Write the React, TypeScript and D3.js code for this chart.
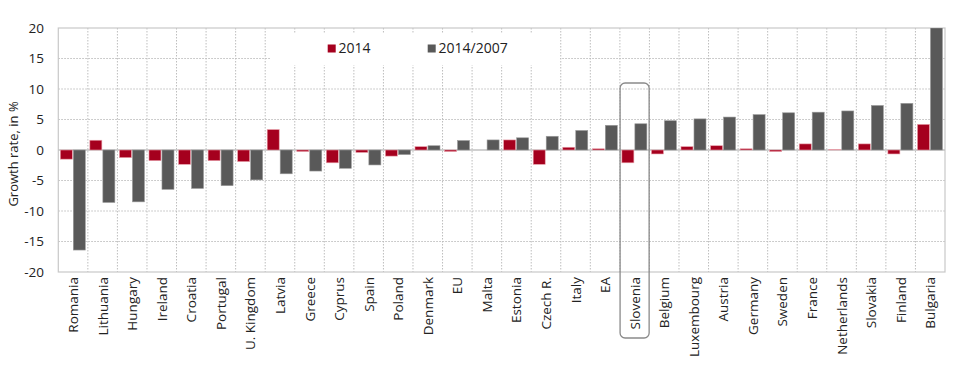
import React from "react";
import * as d3 from "d3";

const categories = ["Romania","Lithuania","Hungary","Ireland","Croatia","Portugal","U. Kingdom","Latvia","Greece","Cyprus","Spain","Poland","Denmark","EU","Malta","Estonia","Czech R.","Italy","EA","Slovenia","Belgium","Luxembourg","Austria","Germany","Sweden","France","Netherlands","Slovakia","Finland","Bulgaria"];
const values2014 = [-1.5,1.6,-1.25,-1.75,-2.35,-1.75,-1.9,3.35,-0.25,-2.1,-0.4,-1.0,0.55,-0.25,0,1.65,-2.35,0.45,0.2,-2.1,-0.65,0.55,0.7,0.2,-0.25,1.0,0.05,1.0,-0.65,4.2];
const values20142007 = [-16.4,-8.6,-8.5,-6.45,-6.3,-5.85,-4.9,-3.9,-3.45,-3.0,-2.45,-0.75,0.7,1.55,1.65,2.0,2.25,3.2,4.05,4.3,4.8,5.1,5.4,5.8,6.1,6.2,6.4,7.3,7.65,20];
const yTicks = [20,15,10,5,0,-5,-10,-15,-20];
const seriesNames = ["2014","2014/2007"];
const highlight = "Slovenia";

const W = 960, H = 365;
const L = 58.3, R = 945, T = 28, B = 272;
const RED = "#a5001e", GRAY = "#595959";
const FONT = "'Open Sans', 'Noto Sans', sans-serif";

export default function App() {
  const x = d3.scaleBand<string>().domain(categories).range([L, R]).paddingInner(0).paddingOuter(0);
  const y = d3.scaleLinear().domain([-20, 20]).range([B, T]);
  const bw = x.bandwidth();
  const barW = 12;
  const off1 = 2, off2 = 2 + barW + 1;
  const hx = x(highlight)!;
  return (
    <svg width={W} height={H} style={{ position: "absolute", left: 0, top: 0, background: "#fff" }} fontFamily={FONT}>
      <defs>
        <clipPath id="plot"><rect x={L} y={T} width={R - L} height={B - T} /></clipPath>
      </defs>
      {/* horizontal gridlines */}
      {yTicks.filter(t => t !== 20 && t !== -20 && t !== 0).map(t => (
        <line key={"h" + t} x1={L} x2={R} y1={y(t)} y2={y(t)} stroke="#bdbdbd" strokeWidth={1} strokeDasharray="1.5,1.5" />
      ))}
      {/* vertical gridlines */}
      {categories.slice(1).map(c => (
        <line key={"v" + c} x1={x(c)!} x2={x(c)!} y1={T} y2={B} stroke="#bdbdbd" strokeWidth={1} strokeDasharray="1.5,1.5" />
      ))}
      {/* legend background */}
      <rect x={270} y={33} width={290} height={32} fill="#fff" />
      {/* border */}
      <rect x={L} y={T} width={R - L} height={B - T} fill="none" stroke="#c8c8c8" strokeWidth={1.2} />
      {/* zero line */}
      <line x1={L} x2={R} y1={y(0)} y2={y(0)} stroke="#c0c0c0" strokeWidth={1.5} />
      <g clipPath="url(#plot)">
        {categories.map((c, i) => {
          const v = values2014[i];
          return (
            <rect key={"r" + c} x={x(c)! + off1} width={barW} y={Math.min(y(v), y(0))} height={Math.abs(y(v) - y(0))}
              fill={RED} stroke="#e8a0aa" strokeWidth={0.6} />
          );
        })}
        {categories.map((c, i) => {
          const v = values20142007[i];
          return (
            <rect key={"g" + c} x={x(c)! + off2} width={barW} y={Math.min(y(v), y(0))} height={Math.abs(y(v) - y(0))}
              fill={GRAY} stroke="#9a9a9a" strokeWidth={0.6} />
          );
        })}
      </g>
      {/* y tick labels */}
      {yTicks.map(t => (
        <text key={"yt" + t} x={44} y={y(t)} dy="0.35em" textAnchor="end" fontSize={13.5} fill="#222">{t}</text>
      ))}
      <text transform={`translate(18,${(T + B) / 2 + 4}) rotate(-90)`} textAnchor="middle" fontSize={13} fill="#222">Growth rate, in %</text>
      {/* x labels */}
      {categories.map(c => (
        <text key={"xl" + c} transform={`translate(${x(c)! + bw / 2 + 5},277) rotate(-90)`} textAnchor="end" fontSize={13.5} fill="#222">{c}</text>
      ))}
      {/* highlight box */}
      <rect x={hx + 0.2} y={83} width={bw - 0.5} height={255} rx={5} ry={5} fill="none" stroke="#8a8a8a" strokeWidth={1.3} />
      {/* legend */}
      <rect x={327.7} y={44.5} width={8} height={8} fill={RED} />
      <text x={338.5} y={53} fontSize={14} fill="#222">{seriesNames[0]}</text>
      <rect x={427.7} y={44.5} width={8} height={8} fill={GRAY} />
      <text x={438.5} y={53} fontSize={14} fill="#222">{seriesNames[1]}</text>
    </svg>
  );
}
